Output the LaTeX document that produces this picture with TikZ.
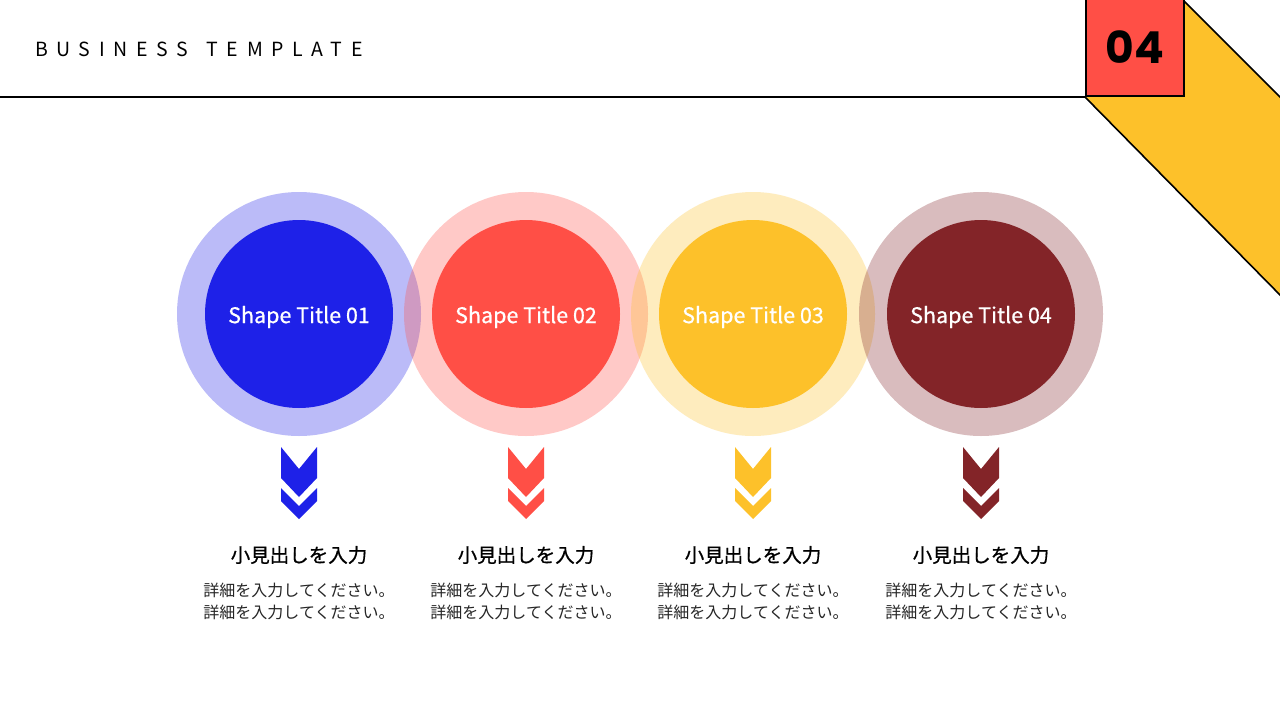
\documentclass[tikz,border=0pt]{standalone}
\usepackage{fontspec}
\setmainfont{Noto Sans CJK JP}
\newfontfamily\medfont{Noto Sans CJK JP}[FakeBold=0.7]
\newfontfamily\popfont{Poppins}
\definecolor{cA}{HTML}{1E21E8}
\definecolor{cB}{HTML}{FF4F46}
\definecolor{cC}{HTML}{FDC12A}
\definecolor{cD}{HTML}{832428}
\begin{document}
\begin{tikzpicture}[x=1pt,y=-1pt,
  outer/.style={circle,minimum size=244pt,inner sep=0pt,draw=none,fill opacity=0.3},
  inner/.style={circle,minimum size=188pt,inner sep=0pt,draw=none},
  headtext/.style={font=\medfont\fontsize{19.5}{22}\selectfont,text=black},
  bodytext/.style={font=\fontsize{16}{22}\selectfont,align=center,text=black!85}]
\useasboundingbox[fill=white] (0,0) rectangle (1280,720);
% header
\node[anchor=west,inner sep=0pt,font=\fontsize{19.5}{22}\selectfont\addfontfeature{LetterSpace=44}] (title) at (35,49) {BUSINESS\hspace{6pt} TEMPLATE};
\coordinate (lineL) at (0,97);
\coordinate (lineR) at (1085,97);
\draw[line width=2pt] (lineL) -- (lineR);
\draw[fill=cC,line width=1.6pt,line join=miter] (1183,0) -- (1282,99) -- (1282,297) -- (1085,97) -- cycle;
\node[draw=black,line width=1.6pt,fill=cB,minimum width=98pt,minimum height=98pt,inner sep=0pt,anchor=south west,
  font=\popfont\bfseries\fontsize{44}{44}\selectfont] (num) at (1085,97) {04};
% circles
\foreach \x/\c/\n in {299/cA/1,526/cB/2,753/cC/3,981/cD/4}{
  \node[outer,fill=\c] (o\n) at (\x,314) {};
}
\foreach \x/\c/\n in {299/cA/1,526/cB/2,753/cC/3,981/cD/4}{
  \node[inner,fill=\c] (i\n) at (\x,314) {};
  \node[text=white,font=\medfont\fontsize{21.5}{24}\selectfont] (t\n) at (\x,317) {Shape Title 0\n};
  \fill[\c] (\x-18,447) -- (\x,469) -- (\x+18,447) -- (\x+18,478) -- (\x,497) -- (\x-18,478) -- cycle;
  \fill[\c] (\x-18,488) -- (\x,506) -- (\x+18,488) -- (\x+18,501) -- (\x,519) -- (\x-18,501) -- cycle;
  \node[headtext] (h\n) at (\x,555) {小見出しを入力};
  \node[bodytext] (b\n) at (\x,601) {詳細を入力してください。\\詳細を入力してください。};
}
\end{tikzpicture}
\end{document}
